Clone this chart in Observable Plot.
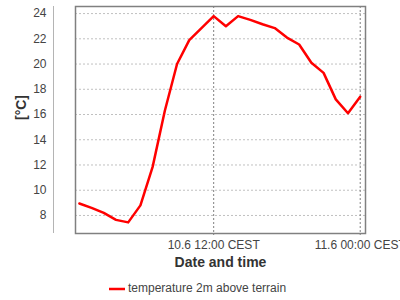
<!DOCTYPE html>
<html>
<head>
<meta charset="utf-8">
<script src="https://cdn.jsdelivr.net/npm/d3@7"></script>
<script src="https://cdn.jsdelivr.net/npm/@observablehq/plot@0.6"></script>
<style>
  html, body { margin: 0; padding: 0; background: #fff; overflow: hidden; width: 400px; height: 300px; }
  #chart { position: relative; width: 400px; height: 275px; }
  #legend { position: relative; width: 400px; height: 25px; font-family: "Liberation Sans", Arial, sans-serif; font-size: 12px; color: #444; }
  #legend svg { position: absolute; left: 109px; top: 11px; }
  #legend span { position: absolute; left: 128px; top: 6px; white-space: nowrap; }
</style>
</head>
<body>
<div id="chart"></div>
<div id="legend"><svg width="18" height="6"><line x1="0" y1="3" x2="16" y2="3" stroke="#ff0000" stroke-width="2.5"/></svg><span></span></div>
<script>
// Hours of 10 June (24 = midnight of 11 June)
const hours = [1, 2, 3, 4, 5, 6, 7, 8, 9, 10, 11, 12, 13, 14, 15, 16, 17, 18, 19, 20, 21, 22, 23, 24];
const temps = [8.95, 8.6, 8.2, 7.65, 7.45, 8.8, 11.85, 16.3, 20.0, 21.9, 22.85, 23.8, 23.0, 23.8, 23.5, 23.15, 22.85, 22.1, 21.55, 20.1, 19.3, 17.2, 16.1, 17.4];
const yTicks = [8, 10, 12, 14, 16, 18, 20, 22, 24];
const xTickHours = [12, 24];
const xTickLabels = ["10.6 12:00 CEST", "11.6 00:00 CEST"];
const seriesName = "temperature 2m above terrain";
const yLabel = "[°C]";
const xLabel = "Date and time";

const toDate = h => new Date(Date.UTC(2013, 5, 10, h));
const data = hours.map((h, i) => ({time: toDate(h), temp: temps[i]}));
const xTicks = xTickHours.map(toDate);
const xDomain = [new Date(Date.UTC(2013, 5, 10, 0, 41)), new Date(Date.UTC(2013, 5, 11, 0, 26))];

const chart = Plot.plot({
  width: 400,
  height: 275,
  marginLeft: 75,
  marginRight: 35,
  marginTop: 6,
  marginBottom: 42,
  style: {fontFamily: "Liberation Sans, Arial, sans-serif", fontSize: "12px", background: "#fff"},
  x: {type: "utc", domain: xDomain},
  y: {domain: [6.57, 24.56]},
  marks: [
    Plot.gridY(yTicks, {stroke: "#c0c0c0", strokeOpacity: 1, strokeDasharray: "2,2"}),
    Plot.gridX(xTicks, {stroke: "#808080", strokeOpacity: 1, strokeDasharray: "2,2"}),
    Plot.axisX(xTicks, {
      tickSize: 4, tickPadding: 3, stroke: "#808080", strokeDasharray: "2,2",
      fill: "#444",
      tickFormat: d => xTickLabels[xTicks.findIndex(t => +t === +d)],
      label: null
    }),
    Plot.axisY(yTicks, {tickSize: 0, tickPadding: 29, fill: "#444", label: null}),
    Plot.ruleX([xDomain[0]], {dx: -22, stroke: "#b4b4b4", strokeWidth: 1}),
    Plot.frame({stroke: "#808080", strokeWidth: 1.5}),
    Plot.line(data, {x: "time", y: "temp", stroke: "#ff0000", strokeWidth: 2.5}),
    Plot.text([xLabel], {frameAnchor: "bottom", lineAnchor: "middle", dy: 29, fontWeight: "bold", fontSize: 14, fill: "#333"}),
    Plot.text([yLabel], {frameAnchor: "left", lineAnchor: "middle", dx: -54, rotate: -90, fontWeight: "bold", fontSize: 14, fill: "#333"})
  ]
});
document.getElementById("chart").appendChild(chart);
document.querySelector("#legend span").textContent = seriesName;
</script>
</body>
</html>
